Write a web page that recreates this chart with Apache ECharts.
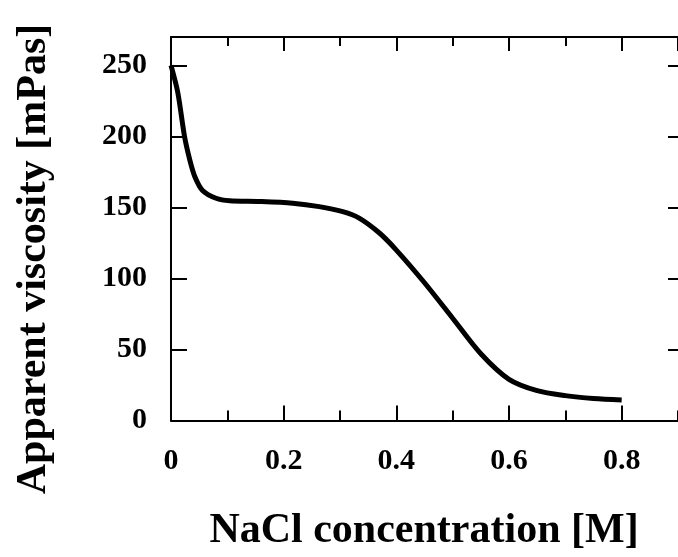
<!DOCTYPE html>
<html>
<head>
<meta charset="utf-8">
<script src="https://cdn.jsdelivr.net/npm/echarts@6/dist/echarts.min.js"></script>
<style>
  html, body { margin: 0; padding: 0; background: #fff; }
  #chart { width: 678px; height: 557px; }
</style>
</head>
<body>
<div id="chart"></div>
<script>
// ---- data ----
const concentration = [0, 0.012, 0.024, 0.033, 0.042, 0.056, 0.08, 0.104, 0.157, 0.216, 0.263, 0.305, 0.334, 0.37, 0.40, 0.45, 0.50, 0.55, 0.60, 0.65, 0.70, 0.75, 0.80];
const viscosity     = [250, 231, 200, 184, 172, 162, 156.5, 154.7, 154.2, 153, 150.6, 147, 142.5, 132, 120, 97, 72, 47, 29, 21, 17.5, 15.5, 14.5];
const xTickLabels = ['0', '0.2', '0.4', '0.6', '0.8'];
const yTickLabels = ['0', '50', '100', '150', '200', '250'];
const xTitle = 'NaCl concentration [M]';
const yTitle = 'Apparent viscosity [mPas]';

const FONT = '"Liberation Serif", "Times New Roman", serif';
const points = concentration.map((c, i) => [c, viscosity[i]]);

const chart = echarts.init(document.getElementById('chart'), null, { renderer: 'canvas' });

function xAx(position, interval, tickLen, showLabels, showLine) {
  return {
    type: 'value', position: position, min: 0, max: 0.9, interval: interval,
    axisLine: { show: showLine, onZero: false, lineStyle: { color: '#000', width: 2 } },
    axisTick: { show: true, inside: true, length: tickLen, lineStyle: { color: '#000', width: 2 } },
    axisLabel: {
      show: showLabels, margin: 26, showMaxLabel: false,
      color: '#000', fontFamily: FONT, fontWeight: 'bold', fontSize: 30,
      formatter: function (v) {
        const s = String(Math.round(v * 10) / 10);
        return xTickLabels.indexOf(s) >= 0 ? s : '';
      }
    },
    splitLine: { show: false }
  };
}
function yAx(position, tickLen, showLabels, showLine) {
  return {
    type: 'value', position: position, min: 0, max: 270, interval: 50,
    axisLine: { show: showLine, onZero: false, lineStyle: { color: '#000', width: 2 } },
    axisTick: { show: true, inside: true, length: tickLen, lineStyle: { color: '#000', width: 2 } },
    axisLabel: {
      show: showLabels, margin: 24, showMaxLabel: false,
      color: '#000', fontFamily: FONT, fontWeight: 'bold', fontSize: 30,
      formatter: function (v) {
        const s = String(Math.round(v));
        return yTickLabels.indexOf(s) >= 0 ? s : '';
      }
    },
    splitLine: { show: false }
  };
}

chart.setOption({
  animation: false,
  backgroundColor: '#fff',
  grid: { left: 171, top: 37, width: 508, height: 383.5, containLabel: false },
  xAxis: [
    xAx('bottom', 0.2, 15, true, true),
    xAx('bottom', 0.1, 10, false, false),
    xAx('top', 0.2, 14, false, true),
    xAx('top', 0.1, 9, false, false)
  ],
  yAxis: [
    yAx('left', 16, true, true),
    yAx('right', 10, false, false)
  ],
  graphic: [
    {
      type: 'text', x: 424, y: 531,
      style: { text: xTitle, fill: '#000', font: 'bold 42px ' + FONT, textAlign: 'center', textVerticalAlign: 'middle' }
    },
    {
      type: 'text', x: 34, y: 259, rotation: Math.PI / 2,
      style: { text: yTitle, fill: '#000', font: 'bold 42px ' + FONT, textAlign: 'center', textVerticalAlign: 'middle' }
    }
  ],
  series: [{
    type: 'line', xAxisIndex: 0, yAxisIndex: 0,
    data: points, smooth: 0.3, showSymbol: false, symbol: 'none',
    lineStyle: { color: '#000', width: 5 }
  }]
});
</script>
</body>
</html>
